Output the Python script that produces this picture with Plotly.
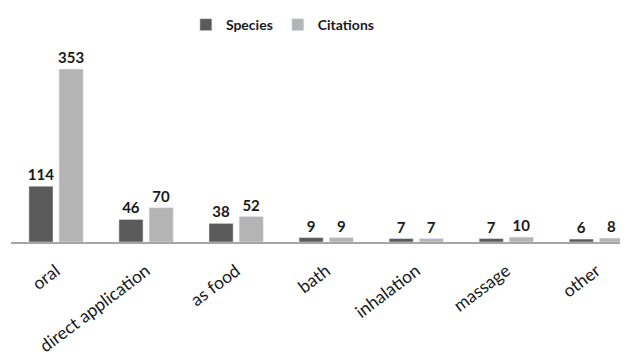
import plotly.graph_objects as go

categories = ["oral", "direct application", "as food", "bath", "inhalation", "massage", "other"]
species = [114, 46, 38, 9, 7, 7, 6]
citations = [353, 70, 52, 9, 7, 10, 8]

FONT = "Lato, Liberation Sans Narrow, sans-serif"

fig = go.Figure()
for name, vals, col in [("Species", species, "#5a5a5a"), ("Citations", citations, "#b4b4b4")]:
    fig.add_trace(go.Bar(
        name=name, x=categories, y=vals, marker_color=col,
        text=vals, textposition="outside", cliponaxis=False, constraintext="none",
        textfont=dict(family=FONT, size=15, color="#1a1a1a", weight="bold"),
    ))

fig.update_layout(
    width=628, height=355,
    margin=dict(l=3, r=0, t=42, b=121, autoexpand=False),
    paper_bgcolor="white", plot_bgcolor="white",
    barmode="group", bargap=0.33, bargroupgap=0.2,
    showlegend=True,
    legend=dict(orientation="h", x=0.435, xanchor="center", y=0.997, yanchor="top",
                yref="container", font=dict(family=FONT, size=14, color="#1a1a1a", weight="bold"),
                itemwidth=30, traceorder="normal", tracegroupgap=0),
    font=dict(family=FONT),
)
fig.update_xaxes(
    type="category", range=[-0.5, 6.44], tickangle=-37, automargin=False,
    showline=True, linecolor="#a6a6a6", linewidth=2, ticks="", ticklabelstandoff=10,
    tickfont=dict(family=FONT, size=17.5, color="#1a1a1a"),
)
fig.update_yaxes(range=[0, 392], visible=False, showgrid=False, zeroline=False)

fig.write_html("out.html")
